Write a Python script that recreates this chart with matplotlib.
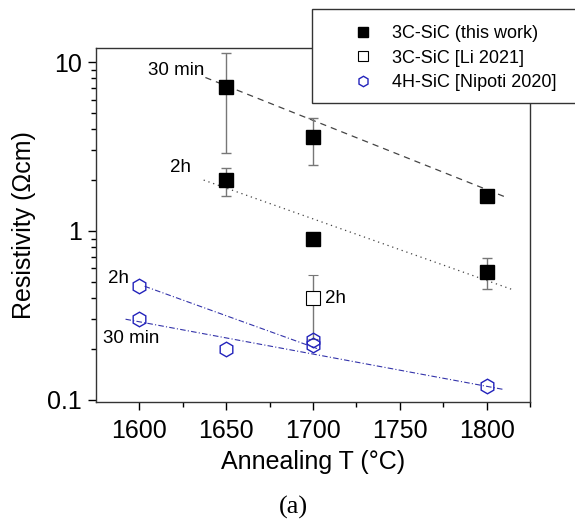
import matplotlib
matplotlib.use("Agg")
import matplotlib.pyplot as plt
from matplotlib.lines import Line2D
from matplotlib.patches import Rectangle
from matplotlib.ticker import LogLocator, NullFormatter, FixedLocator

plt.rcParams['font.family'] = ['Liberation Sans', 'DejaVu Sans']

# 3C-SiC (this work)
T_30min = [1650, 1700, 1800]
rho_30min = [7.1, 3.6, 1.6]
err_lo_30min = [4.2, 1.15, 0.08]
err_hi_30min = [4.2, 1.05, 0.08]

T_2h = [1650, 1700, 1800]
rho_2h = [2.0, 0.9, 0.57]
err_lo_2h = [0.38, 0.05, 0.12]
err_hi_2h = [0.37, 0.05, 0.12]

# 3C-SiC [Li 2021]
T_li = [1700]
rho_li = [0.4]
err_lo_li = [0.17]
err_hi_li = [0.15]

# 4H-SiC [Nipoti 2020]
T_nip = [1600, 1600, 1650, 1700, 1700, 1800]
rho_nip = [0.47, 0.30, 0.20, 0.225, 0.21, 0.12]

# fit lines (end points)
fit30_T = [1638, 1810]
fit30_rho = [8.1, 1.6]
fit2h_T = [1637, 1816]
fit2h_rho = [2.0, 0.445]
fitnip2h_T = [1603, 1703]
fitnip2h_rho = [0.47, 0.20]
fitnip30_T = [1592, 1810]
fitnip30_rho = [0.30, 0.115]

labels = ['3C-SiC (this work)', '3C-SiC [Li 2021]', '4H-SiC [Nipoti 2020]']

fig = plt.figure(figsize=(5.75, 5.19), dpi=100)
ax = fig.add_axes([0.167, 0.2254, 0.7548, 0.682])

ax.plot(fit30_T, fit30_rho, color='#444444', ls=(0, (5, 4)), lw=0.9)
ax.plot(fit2h_T, fit2h_rho, color='#444444', ls=(0, (1, 3)), lw=0.9)
ax.plot(fitnip2h_T, fitnip2h_rho, color='#3333aa', ls=(0, (5, 2, 1, 2)), lw=0.8)
ax.plot(fitnip30_T, fitnip30_rho, color='#3333aa', ls=(0, (5, 2, 1, 2)), lw=0.8)

eb = dict(ecolor='#777777', elinewidth=1, capsize=3.5, capthick=1, zorder=3)
ax.errorbar(T_30min, rho_30min, yerr=[err_lo_30min, err_hi_30min], fmt='s', color='black',
            ms=9.5, **eb)
ax.errorbar(T_2h, rho_2h, yerr=[err_lo_2h, err_hi_2h], fmt='s', color='black',
            ms=9.5, **eb)
ax.errorbar(T_li, rho_li, yerr=[err_lo_li, err_hi_li], fmt='s', mfc='white', mec='black',
            mew=0.8, ms=9.5, **eb)
ax.plot(T_nip, rho_nip, 'h', mfc='none', mec='#2222bb', mew=1, ms=10.5, ls='none', zorder=4)

ax.text(1621, 8.85, '30 min', fontsize=13.5, ha='center', va='center')
ax.text(1623.5, 2.36, '2h', fontsize=13.5, ha='center', va='center')
ax.text(1588, 0.52, '2h', fontsize=13.5, ha='center', va='center')
ax.text(1595, 0.23, '30 min', fontsize=13.5, ha='center', va='center')
ax.text(1713, 0.40, '2h', fontsize=13.5, ha='center', va='center')

ax.set_yscale('log')
ax.set_xlim(1575, 1825)
ax.set_ylim(0.097, 12.1)
ax.xaxis.set_major_locator(FixedLocator([1600, 1650, 1700, 1750, 1800]))
ax.xaxis.set_minor_locator(FixedLocator([1625, 1675, 1725, 1775, 1825]))
ax.yaxis.set_major_locator(FixedLocator([0.1, 1, 10]))
ax.set_yticklabels(['0.1', '1', '10'])
ax.yaxis.set_minor_locator(LogLocator(base=10, subs=range(2, 10)))
ax.yaxis.set_minor_formatter(NullFormatter())
ax.tick_params(which='major', direction='out', length=6, width=1, labelsize=18, pad=6)
ax.tick_params(axis='y', which='major', pad=4)
ax.tick_params(which='minor', direction='out', length=3.5, width=1)
for s in ax.spines.values():
    s.set_linewidth(1)
    s.set_color('#333333')

ax.set_xlabel('Annealing T (°C)', fontsize=18, labelpad=5)
ax.set_ylabel('Resistivity (Ωcm)', fontsize=18, labelpad=8)

# legend box covering the top-right corner of the axes
fig.patches.append(Rectangle((312 / 575, 1 - 103 / 519), 0.5, 94 / 519,
                             transform=fig.transFigure, facecolor='white',
                             edgecolor='#333333', lw=1, zorder=5))
handles = [
    Line2D([], [], ls='none', marker='s', color='black', ms=6.5),
    Line2D([], [], ls='none', marker='s', mfc='white', mec='black', mew=0.8, ms=6.5),
    Line2D([], [], ls='none', marker='h', mfc='none', mec='#2222bb', mew=1, ms=7.5),
]
leg = fig.legend(handles, labels, loc='upper left', bbox_to_anchor=(354 / 575, 1 - 25 / 519),
                 frameon=False, borderpad=0, borderaxespad=0, fontsize=13,
                 handlelength=1.0, handletextpad=1.1, labelspacing=0.42)
leg.set_zorder(6)

fig.text(0.51, 0.023, '(a)', fontsize=19, family='Liberation Serif', ha='center', va='center')

fig.savefig('out.png', dpi=100)
